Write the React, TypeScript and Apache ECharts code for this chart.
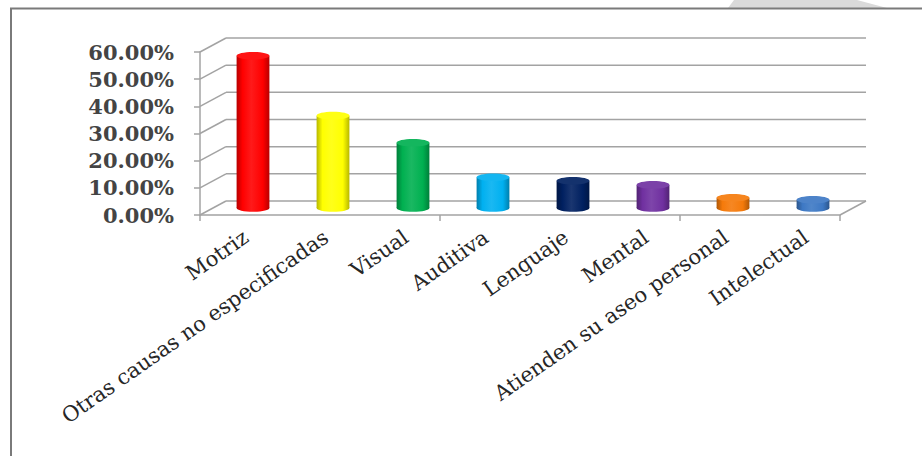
import React, { useEffect, useRef } from "react";
import * as echarts from "echarts";

const categories = [
  "Motriz",
  "Otras causas no especificadas",
  "Visual",
  "Auditiva",
  "Lenguaje",
  "Mental",
  "Atienden su aseo personal",
  "Intelectual",
];
const values = [56, 34, 24, 11.3, 10, 8.5, 3.8, 3];
const barColors = ["#ff0000", "#ffff00", "#00b050", "#00b0f0", "#002060", "#7030a0", "#f57a0a", "#3d78c4"];
const yTicks = [0, 10, 20, 30, 40, 50, 60];

const DX = 26;
const DY = 14;

function mix(hex: string, target: number, amt: number): string {
  const n = parseInt(hex.slice(1), 16);
  const r = (n >> 16) & 255, g = (n >> 8) & 255, b = n & 255;
  const f = (c: number) => Math.round(c + (target - c) * amt);
  return `rgb(${f(r)},${f(g)},${f(b)})`;
}

export default function App() {
  const ref = useRef<HTMLDivElement>(null);
  useEffect(() => {
    if (!ref.current) return;
    const chart = echarts.init(ref.current, null, { renderer: "svg" });
    const axisColor = "#a3a3a3";
    chart.setOption({
      animation: false,
      backgroundColor: "#ffffff",
      grid: [
        { left: 200, top: 52, width: 640, height: 163 },
        { left: 206, top: 52, width: 640, height: 163 },
      ],
      xAxis: [
        {
          type: "category",
          gridIndex: 0,
          data: categories,
          axisLine: { show: true, lineStyle: { color: axisColor, width: 1.5 } },
          axisTick: { show: true, length: 6, lineStyle: { color: axisColor, width: 1.5 } },
          axisLabel: { show: false },
          splitLine: { show: false },
        },
        {
          type: "category",
          gridIndex: 1,
          data: categories,
          axisLine: { show: false },
          axisTick: { show: false },
          axisLabel: {
            interval: 0,
            rotate: 35,
            margin: 20,
            fontFamily: "DejaVu Serif",
            fontSize: 21,
            color: "#262626",
          },
          splitLine: { show: false },
        },
      ],
      yAxis: [
        {
          type: "value",
          gridIndex: 0,
          min: 0,
          max: 60,
          interval: 10,
          axisLine: { show: true, lineStyle: { color: axisColor, width: 1.5 } },
          axisTick: { show: true, length: 6, lineStyle: { color: axisColor, width: 1.5 } },
          axisLabel: {
            margin: 26,
            fontFamily: "DejaVu Serif",
            fontWeight: "bold",
            fontSize: 21,
            color: "#444444",
            formatter: (v: number) => v.toFixed(2) + "%",
          },
          splitLine: { show: false },
        },
        {
          type: "value",
          gridIndex: 1,
          min: 0,
          max: 60,
          interval: 10,
          show: false,
        },
      ],
      graphic: [
        {
          type: "polygon",
          shape: { points: [[728, 8], [734, 0], [857, 0], [887, 8]] },
          style: { fill: "#dadada" },
          silent: true,
        },
        {
          type: "polyline",
          shape: { points: [[11, 470], [11, 8.5], [930, 8.5]] },
          style: { stroke: "#7a7a7a", lineWidth: 2, fill: "none" },
          silent: true,
        },
      ],
      series: [
        {
          type: "custom",
          silent: true,
          z: 1,
          xAxisIndex: 0,
          yAxisIndex: 0,
          data: yTicks.map((v) => [0, v]),
          renderItem: (params: any, api: any) => {
            const cs = params.coordSys;
            const v = api.value(1);
            const y = api.coord([0, v])[1];
            const x0 = cs.x;
            const x1 = cs.x + cs.width;
            const st = { stroke: axisColor, lineWidth: 1.5 };
            const children: any[] = [
              { type: "line", shape: { x1: x0, y1: y, x2: x0 + DX, y2: y - DY }, style: st },
              { type: "line", shape: { x1: x0 + DX, y1: y - DY, x2: x1 + DX, y2: y - DY }, style: st },
            ];
            if (v === 0) {
              children.push({ type: "line", shape: { x1: x1, y1: y, x2: x1 + DX, y2: y - DY }, style: st });
            }
            return { type: "group", children };
          },
        },
        {
          type: "custom",
          z: 5,
          xAxisIndex: 0,
          yAxisIndex: 0,
          data: values.map((v, i) => [i, v]),
          renderItem: (params: any, api: any) => {
            const i = api.value(0);
            const v = api.value(1);
            const base = api.coord([i, 0]);
            const top = api.coord([i, v]);
            const w = api.size([1, 0])[0] * 0.41;
            const cx = base[0] + DX / 2;
            const by = base[1] - DY / 2;
            const ty = top[1] - DY / 2;
            const ry = 3.8;
            const c = barColors[params.dataIndex];
            const grad = new echarts.graphic.LinearGradient(0, 0, 1, 0, [
              { offset: 0, color: mix(c, 0, 0.28) },
              { offset: 0.18, color: c },
              { offset: 0.45, color: mix(c, 255, 0.1) },
              { offset: 0.8, color: c },
              { offset: 1, color: mix(c, 0, 0.28) },
            ]);
            return {
              type: "group",
              children: [
                { type: "ellipse", shape: { cx, cy: by, rx: w / 2, ry }, style: { fill: grad } },
                { type: "rect", shape: { x: cx - w / 2, y: ty, width: w, height: by - ty }, style: { fill: grad } },
                { type: "ellipse", shape: { cx, cy: ty, rx: w / 2, ry }, style: { fill: mix(c, 255, 0.08) } },
              ],
            };
          },
        },
      ],
    });
    return () => chart.dispose();
  }, []);
  return (
    <div
      ref={ref}
      style={{ position: "fixed", left: 0, top: 0, width: 922, height: 456, background: "#fff" }}
    />
  );
}
